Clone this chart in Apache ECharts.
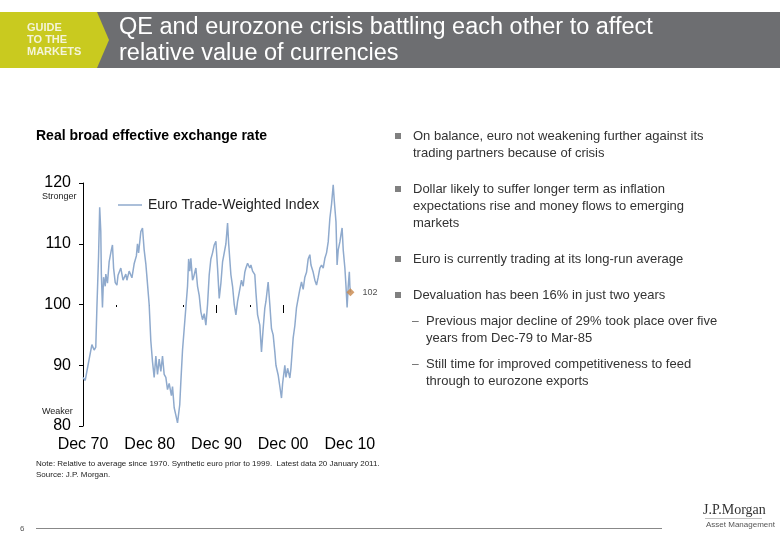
<!DOCTYPE html>
<html>
<head>
<meta charset="utf-8">
<script src="https://cdn.jsdelivr.net/npm/echarts@6/dist/echarts.min.js"></script>
<style>
html,body{margin:0;padding:0;background:#fff;}
#c{width:780px;height:540px;}
</style>
</head>
<body>
<div id="c"></div>
<script>
// Months since Dec 1970
var months = [0,4,9,16,20,23,25,28,30,32,33,35,37,40,41,44,47,51,53,55,58,61,63,68,72,77,79,83,88,92,96,98,100,104,107,110,113,115,119,122,125,128,131,134,137,140,143,146,149,152,155,159,161,164,167,170,172,174,176,179,182,185,188,190,192,194,197,199,203,206,209,212,215,218,221,224,227,230,233,236,239,242,245,248,251,254,257,260,262,266,269,272,275,278,281,285,288,291,293,296,300,302,305,309,311,314,318,321,324,327,329,333,336,339,342,345,347,351,354,357,359,363,365,368,372,374,378,381,384,387,390,393,396,399,402,405,408,410,414,417,420,423,426,429,432,435,438,441,444,447,450,452,455,457,459,462,464,466,468,471,473,475,477,479,480,481];
var values = [88,87.5,90,93.4,92.5,93,99.5,108,116,112,105,99.5,104.5,103,105,103.5,107,109,109.8,106,103.6,103.2,104.8,106,104,105,104,105.5,104.4,106.7,108,110,108.5,112,112.6,109,106.7,104.5,100,94,90.6,88,91.5,88.5,91,89,91.5,88.5,88,86,87,85,86.5,83,81.8,80.5,80.2,83.5,87.3,92.5,96,99.5,103,107.5,105.5,107.6,104,104.5,106,103,101.5,98.8,97.5,98.5,96.6,100,104.9,107.5,108.5,109.8,110.4,106,101,103.5,107,108.5,110,113.4,110,104.9,103,100,98.3,100.5,102,104,103,105.3,106,106.8,106,106.5,105.5,104.9,102,98.3,96.6,92.2,96,99.4,100.5,103.7,100,96,95,92.2,90,88.4,86.5,84.6,87,90,88,89.5,87.9,89.5,94.5,96.5,99.5,101,102.5,103.7,102.5,104.5,105.3,107.5,108.2,106.5,105.3,104,103.2,104.5,106,106.5,106,107.6,108.5,110.3,114.2,116.5,119.7,117,113.6,106.5,109,110.3,111.5,112.6,109,106,103,99.5,103,105.4,103,102];
var xTickLabels = ["Dec 70","Dec 80","Dec 90","Dec 00","Dec 10"];
var yTicks = [80,90,100,110,120];
var seriesName = "Euro Trade-Weighted Index";

var lineData = months.map(function(m,i){return [m, values[i]];});
var last = lineData[lineData.length-1];

var chart = echarts.init(document.getElementById('c'), null, {renderer:'canvas'});
var FF = '"Liberation Sans", Arial, sans-serif';
var X_MAX = 482, GRID_W = 268;

var bullets = [
  {y:136, t:'On balance, euro not weakening further against its'},
  {y:153, t:'trading partners because of crisis', cont:true},
  {y:189, t:'Dollar likely to suffer longer term as inflation'},
  {y:206, t:'expectations rise and money flows to emerging', cont:true},
  {y:223, t:'markets', cont:true},
  {y:259, t:'Euro is currently trading at its long-run average'},
  {y:295, t:'Devaluation has been 16% in just two years'}
];
var subs = [
  {y:321, t:'Previous major decline of 29% took place over five'},
  {y:338, t:'years from Dec-79 to Mar-85', cont:true},
  {y:364, t:'Still time for improved competitiveness to feed'},
  {y:381, t:'through to eurozone exports', cont:true}
];
var g = [];
g.push({type:'rect', shape:{x:0,y:12,width:780,height:56}, style:{fill:'#6D6E71'}});
g.push({type:'polygon', shape:{points:[[0,12],[97,12],[109,40],[97,68],[0,68]]}, style:{fill:'#C9CA1F'}});
['GUIDE','TO THE','MARKETS'].forEach(function(t,i){
  g.push({type:'text', x:27, y:28+12*i, style:{text:t, fill:'#F4F4D8', font:'bold 11px '+FF, textVerticalAlign:'middle'}});
});
g.push({type:'text', x:119, y:28, style:{text:'QE and eurozone crisis battling each other to affect', fill:'#fff', font:'23.5px '+FF, textVerticalAlign:'middle'}});
g.push({type:'text', x:119, y:54, style:{text:'relative value of currencies', fill:'#fff', font:'23.5px '+FF, textVerticalAlign:'middle'}});
g.push({type:'text', x:36, y:136, style:{text:'Real broad effective exchange rate', fill:'#000', font:'bold 14px '+FF, textVerticalAlign:'middle'}});
g.push({type:'text', x:42, y:197, style:{text:'Stronger', fill:'#222', font:'9px '+FF, textVerticalAlign:'middle'}});
g.push({type:'text', x:42, y:412, style:{text:'Weaker', fill:'#222', font:'9px '+FF, textVerticalAlign:'middle'}});
bullets.forEach(function(b){
  if(!b.cont) g.push({type:'rect', shape:{x:395,y:b.y-3,width:6,height:6}, style:{fill:'#808080'}});
  g.push({type:'text', x:413, y:b.y, style:{text:b.t, fill:'#333', font:'13px '+FF, textVerticalAlign:'middle'}});
});
subs.forEach(function(b){
  if(!b.cont) g.push({type:'text', x:412, y:b.y+1, style:{text:'–', fill:'#666', font:'12px '+FF, textVerticalAlign:'middle'}});
  g.push({type:'text', x:426, y:b.y, style:{text:b.t, fill:'#333', font:'13px '+FF, textVerticalAlign:'middle'}});
});
g.push({type:'text', x:36, y:464, style:{text:'Note: Relative to average since 1970. Synthetic euro prior to 1999.  Latest data 20 January 2011.', fill:'#222', font:'8px '+FF, textVerticalAlign:'middle'}});
g.push({type:'text', x:36, y:475, style:{text:'Source: J.P. Morgan.', fill:'#222', font:'8px '+FF, textVerticalAlign:'middle'}});
g.push({type:'line', shape:{x1:36,y1:528.5,x2:662,y2:528.5}, style:{stroke:'#888', lineWidth:1}});
g.push({type:'text', x:20, y:529, style:{text:'6', fill:'#555', font:'8px '+FF, textVerticalAlign:'middle'}});
g.push({type:'text', x:703, y:510, style:{text:'J.P.Morgan', fill:'#333', font:'14px "Liberation Serif", serif', textVerticalAlign:'middle'}});
g.push({type:'line', shape:{x1:705,y1:518.5,x2:762,y2:518.5}, style:{stroke:'#999', lineWidth:0.6}});
g.push({type:'text', x:706, y:525, style:{text:'Asset Management', fill:'#555', font:'8px '+FF, textVerticalAlign:'middle'}});

var option = {
  animation:false,
  backgroundColor:'#fff',
  graphic:g,
  legend:{
    data:[{name:seriesName, icon:'rect'}],
    left:113, top:193, itemWidth:24, itemHeight:1.5, itemGap:10,
    textStyle:{fontFamily:FF, fontSize:14, color:'#222', padding:[0,0,0,1]}
  },
  grid:[
    {left:83, top:183, width:GRID_W, height:243},
    {left:83, top:300, width:GRID_W*360/X_MAX, height:5}
  ],
  xAxis:[
    {type:'value', gridIndex:0, min:0, max:X_MAX, interval:120,
     axisLine:{show:false}, axisTick:{show:false}, splitLine:{show:false},
     axisLabel:{margin:11, fontFamily:FF, fontSize:16, color:'#000',
       formatter:function(v){var i=Math.round(v/120);return (v%120===0 && xTickLabels[i])?xTickLabels[i]:'';}}},
    {type:'value', gridIndex:1, position:'top', min:0, max:360, interval:120,
     axisLine:{show:false}, axisLabel:{show:false}, splitLine:{show:false},
     axisTick:{show:true, inside:true, length:8, lineStyle:{color:'#000', width:1}}},
    {type:'value', gridIndex:1, position:'bottom', min:0, max:360, interval:60,
     axisLine:{show:false}, axisLabel:{show:false}, splitLine:{show:false},
     axisTick:{show:true, length:2, lineStyle:{color:'#000', width:1}}}
  ],
  yAxis:[
    {type:'value', gridIndex:0, min:yTicks[0], max:yTicks[yTicks.length-1], interval:10,
     axisLine:{show:true, lineStyle:{color:'#000', width:1}},
     axisTick:{show:true, length:4, lineStyle:{color:'#000'}},
     splitLine:{show:false},
     axisLabel:{margin:12, fontFamily:FF, fontSize:16, color:'#000'}},
    {type:'value', gridIndex:1, show:false, min:0, max:1}
  ],
  series:[
    {name:seriesName, type:'line', xAxisIndex:0, yAxisIndex:0, data:lineData,
     symbol:'none', lineStyle:{color:'#8FAACD', width:1.5}, itemStyle:{color:'#8FAACD'}, z:2},
    {name:'latest', type:'scatter', xAxisIndex:0, yAxisIndex:0, data:[last],
     symbol:'diamond', symbolSize:8, itemStyle:{color:'#C8874A'}, z:3,
     label:{show:true, position:'right', distance:8, fontFamily:FF, fontSize:9, color:'#222',
       formatter:function(p){return Math.round(p.value[1]);}}}
  ]
};
chart.setOption(option);
</script>
</body>
</html>
